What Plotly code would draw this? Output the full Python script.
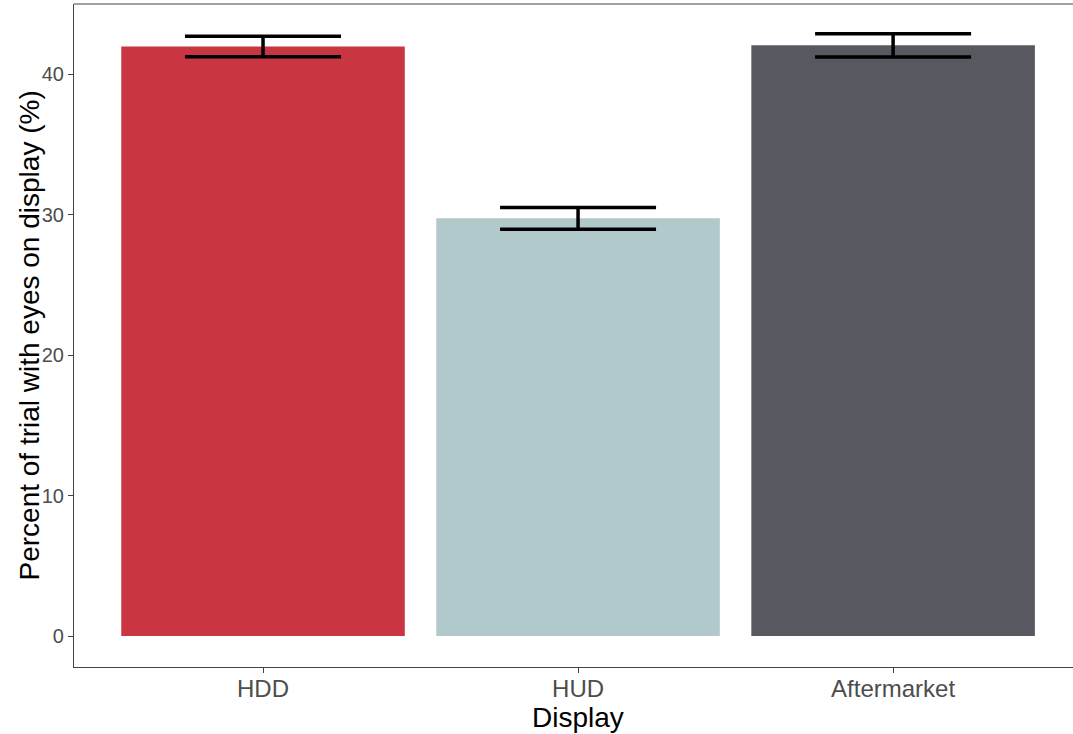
import plotly.graph_objects as go

categories = ["HDD", "HUD", "Aftermarket"]
means = [41.97, 29.74, 42.06]
errors = [0.73, 0.78, 0.83]
colors = ["#C93541", "#B1C9CA", "#575860"]
y_ticks = [0, 10, 20, 30, 40]

L, R, T, B = 74, 0, 4, 67
W, H = 1090, 734
plot_w = W - L - R
plot_h = H - T - B

fig = go.Figure()
fig.add_trace(go.Bar(
    x=categories, y=means, width=0.9,
    marker=dict(color=colors, line=dict(width=0)),
    error_y=dict(type="data", array=errors, visible=True,
                 color="black", thickness=3.5, width=78),
    showlegend=False,
))

fig.update_layout(
    width=W, height=H,
    margin=dict(l=L, r=R, t=T, b=B, pad=0, autoexpand=False),
    paper_bgcolor="white", plot_bgcolor="white",
    font=dict(family="Liberation Sans, Arial, sans-serif"),
    xaxis=dict(
        range=[-0.6, 2.625], showline=True, linecolor="#444444", linewidth=1.2,
        ticks="outside", ticklen=5, tickcolor="#444444",
        tickfont=dict(size=24, color="#4D4D4D"), ticklabelstandoff=-5,
        automargin=False, showgrid=False, zeroline=False,
    ),
    yaxis=dict(
        range=[-2.2, 45.0], showline=True, linecolor="#444444", linewidth=1.2,
        ticks="outside", ticklen=5, tickcolor="#444444",
        tickvals=y_ticks, tickfont=dict(size=20, color="#4D4D4D"),
        automargin=False, showgrid=False, zeroline=False,
    ),
    shapes=[dict(type="line", xref="paper", yref="paper", x0=0, x1=1, y0=1, y1=1,
                 line=dict(color="#444444", width=1.2))],
    annotations=[
        dict(text="Display", xref="x", yref="paper", x="HUD",
             y=(667 - 717) / plot_h, xanchor="center", yanchor="middle",
             showarrow=False, font=dict(size=28, color="black")),
        dict(text="Percent of trial with eyes on display (%)", xref="paper", yref="paper",
             x=(29 - L) / plot_w, y=0.5, xanchor="center", yanchor="middle",
             textangle=-90, showarrow=False, font=dict(size=28, color="black")),
    ],
)

fig.write_html(
    "out.html",
    config={"displayModeBar": False},
    post_script="document.body.style.margin='0';document.body.style.overflow='hidden';",
)
